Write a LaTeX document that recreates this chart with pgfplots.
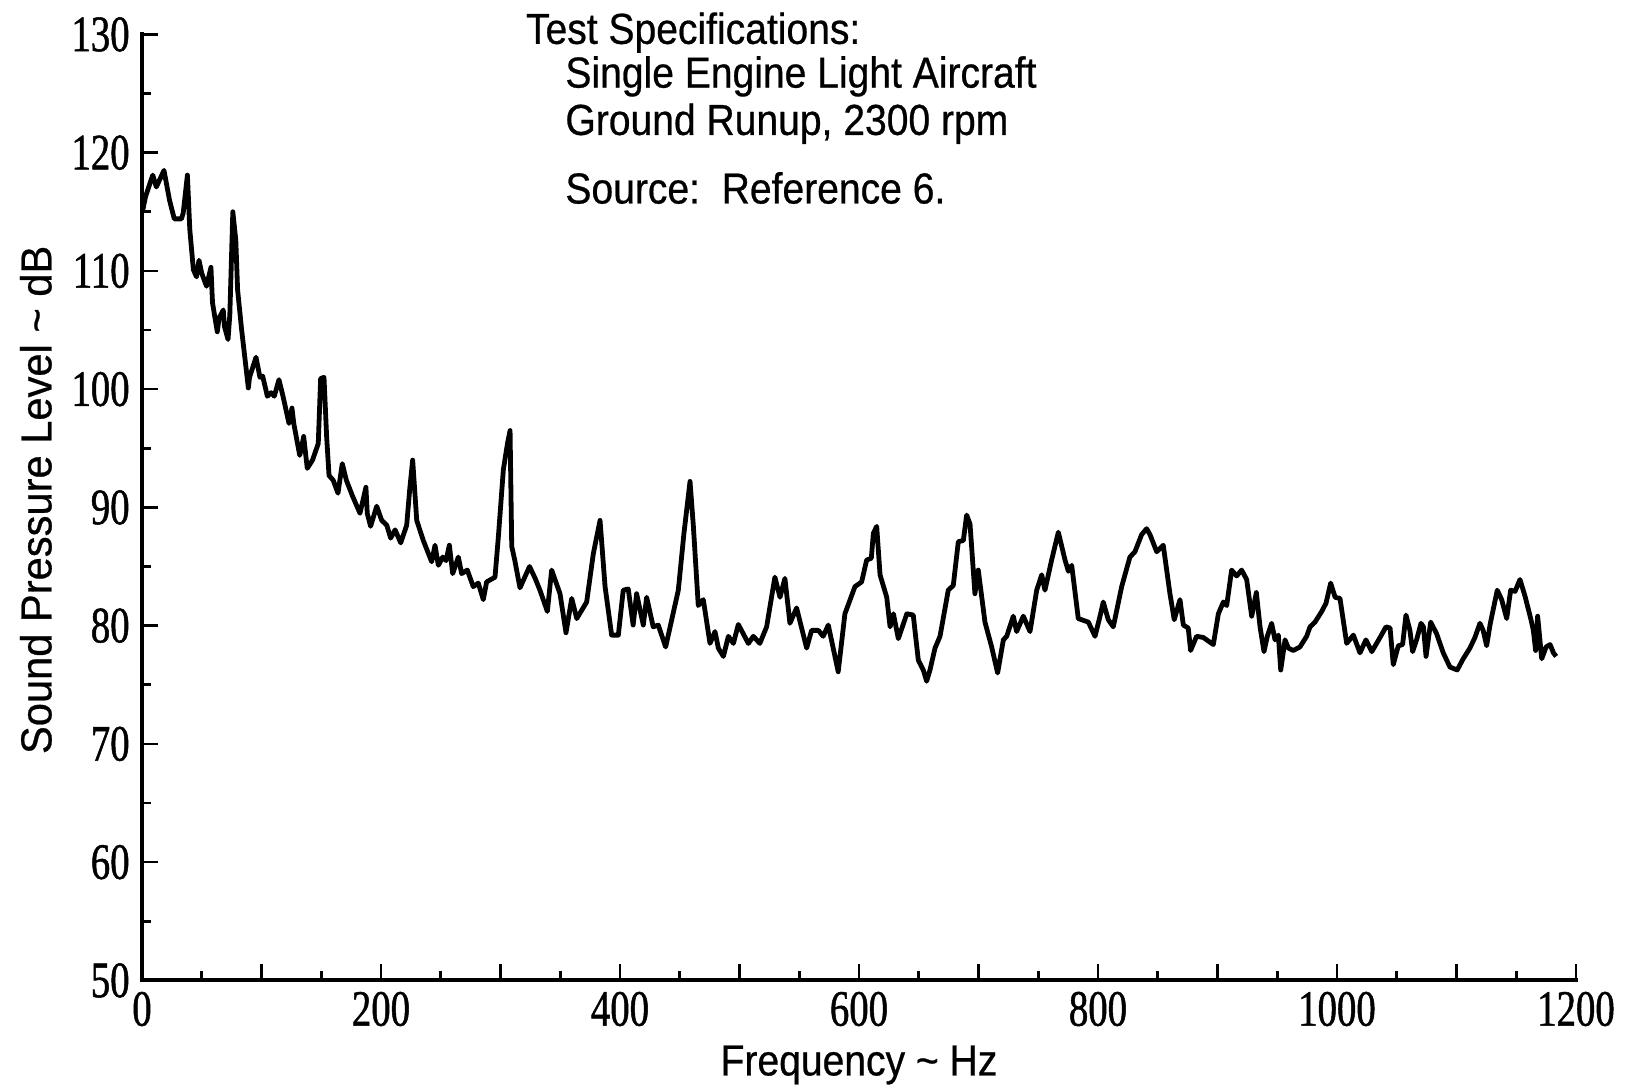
\documentclass[border=0pt]{standalone}
\usepackage{pgfplots}
\pgfplotsset{compat=1.18}
\usepackage{fontspec}
\setmainfont{Liberation Sans}[FakeStretch=0.9, FakeBold=0.6]
\newfontfamily\ylabfont{Liberation Sans}[FakeStretch=0.96, FakeBold=0.6]
\newfontfamily\tickfont{Liberation Serif}[FakeStretch=0.76, FakeBold=1.0]
\begin{document}
\begin{tikzpicture}
\useasboundingbox (-71pt,-53.8pt) rectangle (745pt,490.2pt);
\begin{axis}[
  scale only axis, width=717pt, height=473pt,
  xmin=0, xmax=1200, ymin=50, ymax=130,
  clip=false,
  axis lines*=left,
  axis line style={line width=2pt, line cap=rect},
  xtick={0,100,...,1200},
  xticklabels={0,,200,,400,,600,,800,,1000,,1200},
  minor xtick={50,150,...,1150},
  ytick={50,60,...,130},
  minor ytick={55,65,...,125},
  tick align=inside,
  tick style={line width=1.3pt, black},
  major tick length=8pt, minor tick length=4.5pt,
  /pgf/number format/assume math mode=true,
  /pgf/number format/1000 sep={},
  ticklabel style={font=\tickfont\fontsize{25.5}{25.5}\selectfont},
  xticklabel style={anchor=north, inner sep=0pt, yshift=-5.5pt},
  yticklabel style={anchor=east, inner sep=0pt, xshift=-6pt},
  xlabel={Frequency \textasciitilde\ Hz},
  ylabel={Sound Pressure Level \textasciitilde\ dB},
  label style={font=\fontsize{21.7}{26}\selectfont},
  xlabel style={at={(axis description cs:0.5,0)}, anchor=base, yshift=-47.5pt},
  ylabel style={at={(axis description cs:-0.074,0.508)}, anchor=center, font=\ylabfont\fontsize{21.7}{26}\selectfont},
]
\addplot[line width=2.4pt, black, line join=round] coordinates {
(0.5,115.0) (1,115.3) (3,116.3) (9,118.1) (12,117.1) (18.4,118.5) (23,116.0) (27,114.4) (33,114.4) (34.5,114.9)
(38,118.1) (40,113.5) (43,110.1) (45.6,109.5) (47.7,110.9) (50,109.8) (54,108.7) (57.7,110.3) (59,107.3) (63,104.85)
(64.5,106.0) (68,106.7) (69,105.3) (72,104.2) (73.5,106.3) (76,115.0) (78.5,112.6) (80,108.4) (83.4,105.0) (89,100.1)
(90,101.0) (95.4,102.7) (98.7,101.0) (101,101.1) (104.9,99.4) (108,99.7) (110.7,99.4) (114.6,100.8) (118,99.4) (123,97.1)
(125.5,98.4) (127,97.1) (132,94.4) (134,95.3) (135.3,96.0) (138.3,93.3) (142.7,94.0) (147.5,95.4) (149.5,100.9) (152.3,101.0)
(154.5,96.0) (156.5,92.7) (160,92.3) (164,91.2) (167.6,93.7) (171,92.3) (176,91.0) (182.4,89.5) (187.4,91.7) (188.5,89.5)
(191.3,88.4) (196.4,90.1) (200.6,88.9) (204.8,88.5) (208.1,87.4) (211.8,88.1) (216.5,87.0) (221.5,88.5) (224,91.5) (226.5,94.0)
(229.9,88.9) (235.4,87.2) (242.4,85.4) (245.2,86.8) (248,85.1) (251.6,85.8) (254.4,85.5) (257.2,86.8) (260,84.4) (264.7,85.8)
(267.5,84.4) (272.2,84.7) (277.2,83.3) (281.4,83.6) (285.6,82.2) (288.4,83.7) (295.4,84.1) (298.2,87.5) (302.4,93.2) (306,95.5)
(308,96.5) (309.4,86.7) (312,85.5) (316.3,83.2) (324.3,85.0) (329,84.0) (333,83.0) (339.2,81.2) (342.8,84.7) (349.8,82.7)
(354.8,79.4) (359.6,82.3) (363.8,80.6) (372.1,82.0) (377.7,86.1) (383.3,88.9) (387.5,83.3) (393,79.2) (398.6,79.2) (402.7,83.0)
(406.9,83.1) (411,80.05) (413.9,82.7) (419.5,80.05) (422.3,82.4) (427.8,79.9) (432,80.05) (438.2,78.2) (448.8,83.0) (453.5,87.8)
(458.6,92.2) (461.4,88.4) (465.5,81.7) (469.7,82.2) (475.3,78.5) (479.5,79.5) (482.3,78.1) (486.5,77.4) (490.7,79.1) (494.9,78.5)
(499,80.1) (503.2,79.3) (507.4,78.5) (511.6,79.1) (517,78.5) (522.7,79.9) (529.6,84.1) (533.9,82.4) (538,84.0) (542.2,80.2)
(547.8,81.5) (556.2,78.1) (560.3,79.6) (566,79.6) (570,79.1) (574.3,80.05) (582.6,76.1) (588.2,81.0) (596.6,83.3) (602.2,83.7)
(606.4,85.55) (610.3,85.7) (612,87.8) (614.8,88.4) (617.6,84.3) (623.2,82.4) (626,79.9) (628.8,81.0) (632.9,78.9) (640,81.0)
(645.4,80.9) (649.6,77.1) (653.8,76.25) (656.6,75.3) (659.4,76.25) (663.6,78.1) (667.8,79.1) (674.7,83.0) (678.9,83.4) (683.1,87.1)
(687.3,87.2) (690.1,89.35) (692.9,88.6) (697,82.7) (699.8,84.7) (705.4,80.3) (711,78.2) (716,76.0) (720.8,78.8) (723.6,79.1)
(729.1,80.8) (731.9,79.5) (737.5,80.8) (743.1,79.5) (748.7,83.0) (752.9,84.3) (755.6,83.0) (761.2,85.55) (766.8,87.9) (772.4,85.55)
(775.2,84.6) (778,85.1) (783.5,80.6) (791.9,80.3) (797.5,79.1) (801.7,80.8) (804.4,82.0) (808.6,80.5) (812.8,79.9) (819.8,83.3)
(826.7,85.8) (830.9,86.25) (836.5,87.7) (840.7,88.2) (843.5,87.7) (849.1,86.25) (854.6,86.8) (860.2,82.7) (863.8,80.5) (868.6,82.2)
(871.4,80.05) (875.5,79.8) (877.5,77.9) (882.5,79.1) (888.1,79.0) (896.5,78.4) (900.7,81.0) (904.9,82.0) (907.7,81.7) (911.8,84.7)
(916,84.2) (920.2,84.7) (924.4,83.9) (928.6,80.8) (932.5,82.8) (935.6,79.9) (938.9,77.8) (941.7,79.1) (945.3,80.2) (948.1,78.8)
(950.9,79.2) (952.9,76.25) (956.5,78.8) (959.3,78.1) (963.4,77.9) (969,78.2) (974.6,79.1) (977.4,79.9) (981.6,80.3) (987.2,81.2)
(990.8,81.9) (994.7,83.6) (998.4,82.4) (1002.5,82.3) (1008.1,78.5) (1013.7,79.2) (1019.2,77.7) (1024.2,78.8) (1029.1,77.8) (1036,79.0)
(1041,79.9) (1044.4,79.8) (1047.1,76.7) (1051.3,78.3) (1054.9,78.4) (1057.7,80.9) (1061,79.6) (1063.3,77.8) (1066.6,78.8) (1070.3,80.2)
(1072.3,79.9) (1074.5,77.4) (1078.4,80.3) (1083.4,79.3) (1088.9,77.7) (1094.5,76.5) (1100.6,76.25) (1105.6,77.2) (1111.2,78.1) (1115.4,79.0)
(1119.6,80.2) (1122.3,79.6) (1125.2,78.3) (1128.3,80.2) (1134.1,83.0) (1137.8,82.2) (1142,80.6) (1145.3,83.0) (1149,82.9) (1153.1,83.9)
(1157.3,82.5) (1162.1,80.6) (1164.3,79.6) (1166.2,77.9) (1167.9,80.8) (1171.3,77.2) (1175,78.2) (1178.3,78.4) (1181.1,77.7) (1183.4,77.4)
};
\node[anchor=base west, font=\fontsize{21.7}{26}\selectfont, inner sep=0pt] at (axis cs:321,129.2) {Test Specifications:};
\node[anchor=base west, font=\fontsize{21.7}{26}\selectfont, inner sep=0pt] at (axis cs:354,125.5) {Single Engine Light Aircraft};
\node[anchor=base west, font=\fontsize{21.7}{26}\selectfont, inner sep=0pt] at (axis cs:354,121.5) {Ground Runup, 2300 rpm};
\node[anchor=base west, font=\fontsize{21.7}{26}\selectfont, inner sep=0pt] at (axis cs:354,115.7) {Source:\ \ Reference 6.};
\end{axis}
\end{tikzpicture}
\end{document}
